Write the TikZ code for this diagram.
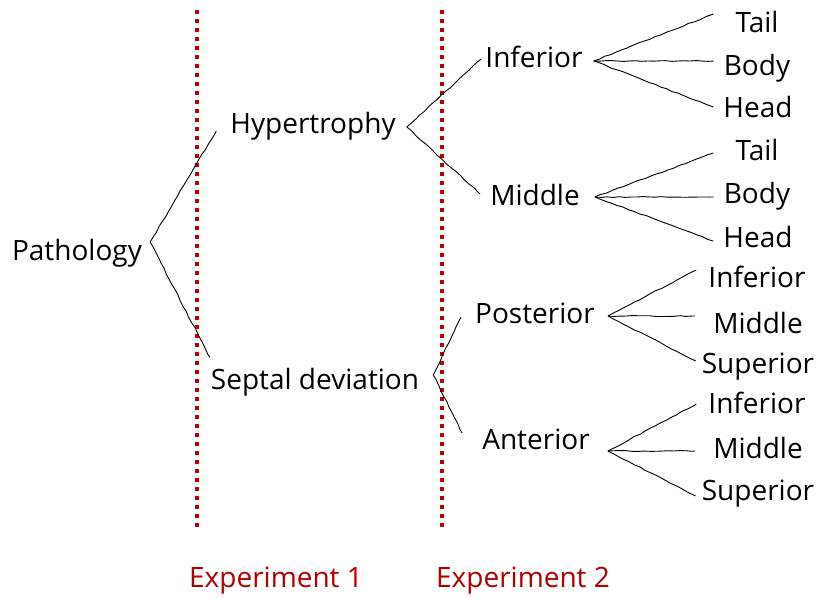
\documentclass[tikz,border=0pt]{standalone}
\usepackage{fontspec}
\setmainfont{Open Sans}
\usepackage{xcolor}
\usetikzlibrary{decorations.pathmorphing}
\definecolor{exred}{RGB}{192,0,0}
\definecolor{extext}{RGB}{176,0,0}

\begin{document}
\begin{tikzpicture}[x=1pt, y=-1pt, font=\fontsize{28}{33}\selectfont,
  lbl/.style={anchor=base, inner sep=0pt},
  branch/.style={line width=0.9pt, line join=round, decorate,
    decoration={random steps, segment length=6pt, amplitude=0.5pt}},
  sepline/.style={draw=exred, line width=4pt, dash pattern=on 4pt off 5pt}]
\useasboundingbox (0,0) rectangle (818,598);
% experiment borders
\draw[sepline] (197,10) -- (197,528);
\draw[sepline] (442,10) -- (442,528);
\node[lbl, text=extext] (expA) at (276,587) {Experiment 1};
\node[lbl, text=extext] (expB) at (523,587) {Experiment 2};
% tree
\node[lbl] (patho) at (77,260) {Pathology};
\node[lbl] (hyper) at (313,133) {Hypertrophy};
\node[lbl] (septal) at (315,389) {Septal deviation};
\node[lbl] (infA) at (534,67) {Inferior};
\node[lbl] (midA) at (535,205) {Middle};
\node[lbl] (post) at (535,323) {Posterior};
\node[lbl] (ant) at (536,449) {Anterior};
\node[lbl] (tailA) at (757,32) {Tail};
\node[lbl] (bodyA) at (757,75) {Body};
\node[lbl] (headA) at (758,117) {Head};
\node[lbl] (tailB) at (757,160) {Tail};
\node[lbl] (bodyB) at (757,203) {Body};
\node[lbl] (headB) at (758,247) {Head};
\node[lbl] (infC) at (757,287) {Inferior};
\node[lbl] (midC) at (758,333) {Middle};
\node[lbl] (supC) at (758,373) {Superior};
\node[lbl] (infD) at (757,413) {Inferior};
\node[lbl] (midD) at (758,458) {Middle};
\node[lbl] (supD) at (758,500) {Superior};
% forks
\coordinate (forkP) at ([shift={(8,-18)}]patho.base east);
\coordinate (forkH) at ([shift={(11,-6)}]hyper.base east);
\coordinate (forkS) at ([shift={(14,-14)}]septal.base east);
\coordinate (forkA) at ([shift={(11,-6)}]infA.base east);
\coordinate (forkB) at ([shift={(15,-8)}]midA.base east);
\coordinate (forkC) at ([shift={(13,-7)}]post.base east);
\coordinate (forkD) at ([shift={(18,2)}]ant.base east);
\draw[branch] (forkP) -- ([shift={(-14,-2)}]hyper.base west);
\draw[branch] (forkP) -- ([shift={(-1,-32)}]septal.base west);
\draw[branch] (forkH) -- ([shift={(-4,-8)}]infA.base west);
\draw[branch] (forkH) -- ([shift={(-10,-11)}]midA.base west);
\draw[branch] (forkS) -- ([shift={(-14,-6)}]post.base west);
\draw[branch] (forkS) -- ([shift={(-20,-16)}]ant.base west);
\foreach \leaf/\dx/\dy in {tailA/-22/-18, bodyA/-10/-14, headA/-10/-10}
  \draw[branch] (forkA) -- ([shift={(\dx,\dy)}]\leaf.base west);
\foreach \leaf/\dx/\dy in {tailB/-22/-7, bodyB/-10/-6, headB/-10/-6}
  \draw[branch] (forkB) -- ([shift={(\dx,\dy)}]\leaf.base west);
\foreach \leaf/\dx/\dy in {infC/-12/-17, midC/-18/-17, supC/-6/-12}
  \draw[branch] (forkC) -- ([shift={(\dx,\dy)}]\leaf.base west);
\foreach \leaf/\dx/\dy in {infD/-12/-9, midD/-18/-7, supD/-6/-4}
  \draw[branch] (forkD) -- ([shift={(\dx,\dy)}]\leaf.base west);
\end{tikzpicture}
\end{document}
